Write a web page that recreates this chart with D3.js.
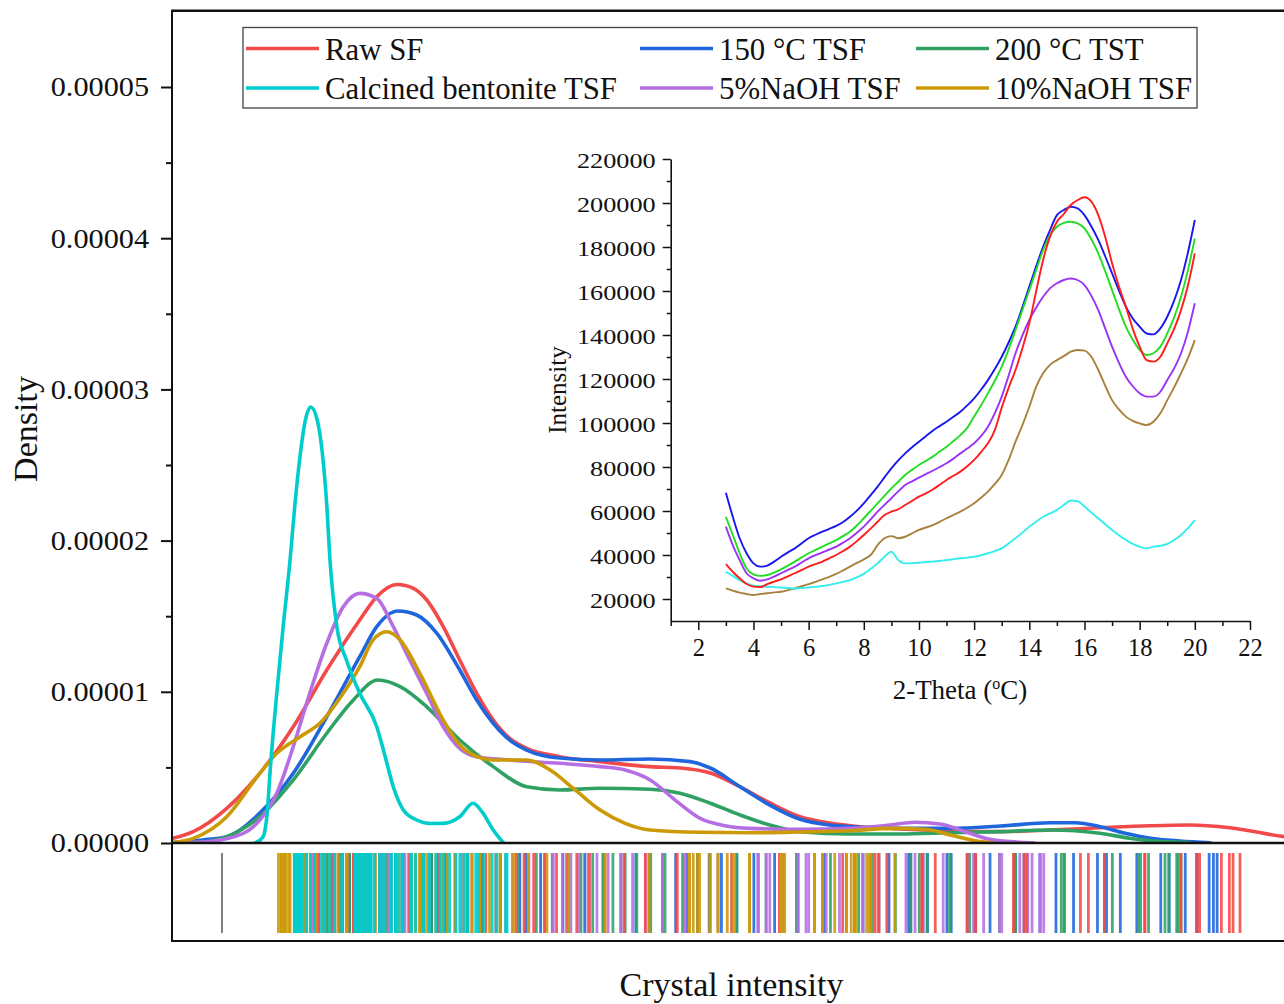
<!DOCTYPE html>
<html>
<head>
<meta charset="utf-8">
<script src="https://cdn.jsdelivr.net/npm/d3@7"></script>
<style>
  body { margin: 0; background: #ffffff; }
  svg { display: block; }
  text { font-family: "Liberation Serif", "Times New Roman", serif; fill: #111; }
</style>
</head>
<body>
<svg id="chart" width="1284" height="1004"></svg>
<script>
// ---------------- data ----------------
const seriesNames = ["Raw SF", "150 °C TSF", "200 °C TST", "Calcined bentonite TSF", "5%NaOH TSF", "10%NaOH TSF"];

// XRD scans (inset): 2-theta sampling and intensity of each sample
const twoTheta = [3, 3.25, 3.5, 3.75, 4, 4.25, 4.5, 4.75, 5, 5.25, 5.5, 5.75, 6, 6.25, 6.5, 6.75, 7, 7.25, 7.5, 7.75,
  8, 8.25, 8.5, 8.75, 9, 9.25, 9.5, 9.75, 10, 10.25, 10.5, 10.75, 11, 11.25, 11.5, 11.75, 12, 12.25, 12.5, 12.75,
  13, 13.25, 13.5, 13.75, 14, 14.25, 14.5, 14.75, 15, 15.25, 15.5, 15.75, 16, 16.25, 16.5, 16.75, 17, 17.25, 17.5, 17.75,
  18, 18.25, 18.5, 18.75, 19, 19.25, 19.5, 19.75, 20];

const xrdRawSF = [35900, 32400, 29400, 26800, 25600, 25400, 26800, 27900, 28900, 30300, 31700, 33200, 34700, 35900, 37000, 38500, 40000, 41800, 43800, 46300,
  49100, 52000, 55100, 58200, 59700, 60800, 62700, 64600, 66500, 68000, 69800, 71900, 74100, 76000, 77900, 80300, 83200, 86800, 90800, 96800,
  107000, 116000, 124100, 134000, 145300, 160000, 174100, 184700, 191500, 195000, 199100, 201300, 202600, 200600, 194500, 184700, 172600, 162000, 152900, 142800,
  134700, 128600, 127900, 130100, 136200, 142800, 151300, 162500, 177100];

const xrd150TSF = [68300, 57400, 47600, 40800, 36200, 34700, 35200, 37000, 39200, 41200, 43000, 45300, 47600, 49200, 50600, 51900, 53200, 55000, 57400, 60200,
  63500, 67200, 71100, 75300, 79400, 83000, 86200, 89000, 91500, 94000, 96500, 98600, 100600, 102800, 105100, 108000, 111200, 115100, 119500, 124500,
  130100, 136600, 143800, 152700, 162000, 171300, 180100, 187700, 194500, 196800, 198300, 197600, 194500, 189300, 183200, 175800, 168000, 160200, 152900, 147500,
  143800, 140700, 140300, 143000, 148300, 155600, 165000, 177500, 192300];

const xrd200TST = [57400, 49100, 40800, 33900, 31200, 30500, 30900, 32000, 33500, 35200, 37000, 38900, 40800, 42300, 43800, 45300, 46800, 48600, 50600, 53400,
  56700, 60100, 63500, 66900, 70300, 73300, 76400, 78700, 80900, 82800, 84700, 87000, 89200, 91800, 94500, 97800, 103000, 108000, 113500, 119200,
  125600, 133500, 142300, 151400, 160400, 169600, 178600, 185400, 189200, 191000, 191500, 190700, 188500, 183500, 177100, 169000, 160400, 151800, 143800, 137800,
  133200, 130900, 131700, 134700, 140700, 148000, 157400, 169500, 183900];

const xrdCalcined = [32400, 30500, 28600, 27100, 26100, 25800, 25600, 25400, 25200, 25000, 24800, 25000, 25200, 25500, 25900, 26400, 27100, 27800, 28600, 29900,
  31400, 33700, 36200, 39200, 41500, 37700, 36200, 36300, 36500, 36800, 37000, 37300, 37700, 38100, 38500, 38800, 39200, 39900, 40800, 41800,
  43000, 45200, 47600, 50200, 52900, 55200, 57400, 58900, 60500, 62700, 64800, 64500, 62000, 59300, 56700, 54000, 51400, 49000, 46800, 45100,
  43800, 43000, 43800, 44200, 45000, 46800, 49100, 52200, 55900];

const xrd5NaOH = [52900, 44500, 37700, 31700, 29400, 28300, 28900, 30200, 31700, 33200, 34700, 36600, 38500, 39900, 41200, 42500, 43800, 45600, 47600, 50100,
  52900, 56200, 59700, 62800, 65800, 68900, 71800, 73500, 75200, 76800, 78300, 80000, 81700, 83800, 86200, 88400, 90800, 94000, 98300, 104500,
  112000, 121500, 131700, 139800, 146800, 152500, 157400, 161200, 163500, 165000, 165700, 165000, 162700, 157800, 151300, 143000, 134700, 127300, 121000, 116700,
  113500, 112000, 112000, 114200, 119500, 124800, 131700, 141500, 154400];

const xrd10NaOH = [24800, 23800, 22900, 22300, 21800, 22300, 22600, 23000, 23300, 24000, 24800, 25800, 26800, 27800, 28900, 30100, 31400, 33000, 34700, 36400,
  38000, 40000, 44500, 47600, 48600, 47600, 48300, 49800, 51400, 52500, 53600, 55100, 56700, 58200, 59700, 61500, 63500, 66000, 68800, 72300,
  76400, 83200, 91500, 99000, 107400, 116500, 122600, 126400, 128600, 130400, 132400, 133200, 132900, 130100, 124100, 117000, 110400, 106200, 102900, 101000,
  99800, 99100, 100600, 104400, 110400, 116200, 122600, 129500, 137700];

// a single intensity value outside the six scans, shown in the rug
const rugOther = [11200];

// kernel density of crystal intensity: [intensity, density]
const densityRawSF = [[1800, 0.030e-5], [5800, 0.075e-5], [12100, 0.229e-5], [18300, 0.461e-5], [24600, 0.769e-5], [30900, 1.144e-5], [37100, 1.475e-5],
  [40300, 1.629e-5], [44100, 1.710e-5], [47200, 1.684e-5], [49700, 1.607e-5], [52800, 1.431e-5], [55900, 1.210e-5], [59100, 0.990e-5], [62200, 0.813e-5],
  [65300, 0.692e-5], [68500, 0.626e-5], [74700, 0.571e-5], [82300, 0.538e-5], [91700, 0.505e-5], [97300, 0.496e-5], [103000, 0.463e-5], [108600, 0.372e-5],
  [114200, 0.265e-5], [119900, 0.174e-5], [125500, 0.132e-5], [131100, 0.108e-5], [138700, 0.093e-5], [148100, 0.081e-5], [157500, 0.075e-5], [166900, 0.086e-5],
  [176300, 0.101e-5], [185700, 0.114e-5], [193200, 0.119e-5], [200700, 0.101e-5], [210900, 0.042e-5], [214000, 0.030e-5]];

const density150TSF = [[1800, 0.003e-5], [7600, 0.020e-5], [12100, 0.042e-5], [18300, 0.198e-5], [24600, 0.461e-5], [30900, 0.835e-5], [37100, 1.232e-5],
  [40300, 1.431e-5], [44300, 1.534e-5], [47800, 1.508e-5], [51600, 1.387e-5], [55900, 1.144e-5], [59100, 0.946e-5], [62200, 0.792e-5], [65300, 0.681e-5],
  [68500, 0.615e-5], [74700, 0.562e-5], [82300, 0.549e-5], [91700, 0.556e-5], [99200, 0.538e-5], [103000, 0.496e-5], [108600, 0.372e-5], [114200, 0.251e-5],
  [119900, 0.157e-5], [125500, 0.119e-5], [131100, 0.104e-5], [138700, 0.097e-5], [148100, 0.097e-5], [157500, 0.112e-5], [166900, 0.134e-5], [171600, 0.134e-5],
  [176300, 0.108e-5], [181000, 0.064e-5], [185700, 0.031e-5], [191300, 0.013e-5], [197000, 0.002e-5]];

const density200TST = [[1800, 0.002e-5], [7600, 0.007e-5], [12100, 0.042e-5], [18300, 0.174e-5], [24600, 0.417e-5], [30900, 0.726e-5], [35900, 0.946e-5],
  [40500, 1.078e-5], [44700, 1.034e-5], [49700, 0.901e-5], [55900, 0.681e-5], [62200, 0.505e-5], [68500, 0.372e-5], [74700, 0.351e-5], [82300, 0.362e-5],
  [91700, 0.355e-5], [97300, 0.329e-5], [103000, 0.263e-5], [108600, 0.185e-5], [114200, 0.119e-5], [119900, 0.075e-5], [129300, 0.060e-5], [138700, 0.060e-5],
  [148100, 0.068e-5], [157500, 0.075e-5], [166900, 0.086e-5], [171600, 0.081e-5], [176300, 0.064e-5], [181900, 0.031e-5], [187500, 0.009e-5], [193200, 0.002e-5]];

const densityCalcined = [[17400, 0], [18900, 0.040e-5], [19700, 0.200e-5], [20300, 0.500e-5], [21500, 0.990e-5], [22700, 1.431e-5], [24000, 1.872e-5],
  [24900, 2.235e-5], [25900, 2.566e-5], [26800, 2.784e-5], [27900, 2.884e-5], [29100, 2.798e-5], [30000, 2.599e-5], [30900, 2.235e-5], [31500, 1.872e-5],
  [32800, 1.431e-5], [34600, 1.210e-5], [37100, 0.990e-5], [40300, 0.769e-5], [41800, 0.582e-5], [43400, 0.372e-5], [45300, 0.218e-5], [47800, 0.152e-5],
  [50300, 0.129e-5], [52800, 0.130e-5], [55900, 0.174e-5], [58400, 0.263e-5], [60300, 0.196e-5], [62200, 0.086e-5], [64100, 0.002e-5]];

const density5NaOH = [[1800, 0.001e-5], [7600, 0.007e-5], [15200, 0.064e-5], [18300, 0.152e-5], [21500, 0.329e-5], [24600, 0.637e-5], [27700, 0.990e-5],
  [30900, 1.321e-5], [34000, 1.563e-5], [37100, 1.651e-5], [40300, 1.618e-5], [43400, 1.431e-5], [46500, 1.210e-5], [49700, 0.990e-5], [52800, 0.769e-5],
  [55900, 0.626e-5], [59100, 0.571e-5], [65300, 0.549e-5], [74700, 0.527e-5], [82300, 0.505e-5], [87000, 0.483e-5], [91700, 0.417e-5], [96400, 0.284e-5],
  [101100, 0.163e-5], [105800, 0.114e-5], [110500, 0.097e-5], [119900, 0.091e-5], [129300, 0.097e-5], [136800, 0.119e-5], [141500, 0.137e-5], [146200, 0.126e-5],
  [150900, 0.075e-5], [155600, 0.024e-5], [161200, 0.005e-5], [164000, 0]];

const density10NaOH = [[1800, 0.003e-5], [5800, 0.031e-5], [12100, 0.174e-5], [18300, 0.461e-5], [21500, 0.593e-5], [25900, 0.703e-5], [29600, 0.792e-5],
  [34000, 0.990e-5], [37100, 1.166e-5], [39600, 1.343e-5], [42200, 1.397e-5], [44700, 1.343e-5], [48400, 1.122e-5], [52800, 0.813e-5], [55900, 0.648e-5],
  [59100, 0.571e-5], [62200, 0.549e-5], [68500, 0.549e-5], [72900, 0.483e-5], [77600, 0.351e-5], [82300, 0.218e-5], [87000, 0.130e-5], [91700, 0.086e-5],
  [101100, 0.071e-5], [110500, 0.068e-5], [119900, 0.073e-5], [129300, 0.081e-5], [136800, 0.097e-5], [143400, 0.091e-5], [148100, 0.053e-5], [152800, 0.015e-5],
  [156000, 0.002e-5]];

// axis ticks
const densityTicks = [0, 1e-5, 2e-5, 3e-5, 4e-5, 5e-5];
const densityMinorTicks = [0.5e-5, 1.5e-5, 2.5e-5, 3.5e-5, 4.5e-5];
const intensityTicks = [20000, 40000, 60000, 80000, 100000, 120000, 140000, 160000, 180000, 200000, 220000];
const intensityMinorTicks = [30000, 50000, 70000, 90000, 110000, 130000, 150000, 170000, 190000, 210000];
const thetaTicks = [2, 4, 6, 8, 10, 12, 14, 16, 18, 20, 22];
const thetaMinorTicks = [1, 3, 5, 7, 9, 11, 13, 15, 17, 19, 21];

// ---------------- styling ----------------
const kdeColors = ["#F24A4A", "#1F66DC", "#2FA263", "#00CCCC", "#B56FE2", "#CC9A06"];
const xrdColors = ["#FF1C1C", "#1818EE", "#22DD22", "#33EEEE", "#9933F5", "#A8823C"];

const series = [
  { name: seriesNames[0], xrd: xrdRawSF, dens: densityRawSF },
  { name: seriesNames[1], xrd: xrd150TSF, dens: density150TSF },
  { name: seriesNames[2], xrd: xrd200TST, dens: density200TST },
  { name: seriesNames[3], xrd: xrdCalcined, dens: densityCalcined },
  { name: seriesNames[4], xrd: xrd5NaOH, dens: density5NaOH },
  { name: seriesNames[5], xrd: xrd10NaOH, dens: density10NaOH }
].map((s, i) => ({ ...s, kdeColor: kdeColors[i], xrdColor: xrdColors[i], idx: i }));

const svg = d3.select("#chart");

// ---------------- main panel: density + rug ----------------
const plotLeft = 172, plotRight = 1290, plotTop = 10.7, baseY = 843, rugBottom = 941;
const x = d3.scaleLinear().domain([1800, 212000]).range([plotLeft, plotRight]);
const y = d3.scaleLinear().domain([0, 5.5e-5]).range([baseY, 11.4]);

svg.append("defs").append("clipPath").attr("id", "plotClip")
  .append("rect").attr("x", plotLeft).attr("y", 0).attr("width", plotRight - plotLeft).attr("height", baseY);

// rug of the measured intensities
const rug = svg.append("g");
const rugOrder = [1, 2, 4, 0, 5, 3];
rug.selectAll("line.other").data(rugOther).join("line")
  .attr("x1", d => x(d)).attr("x2", d => x(d))
  .attr("y1", 853).attr("y2", 933)
  .attr("stroke", "#555").attr("stroke-width", 1.5);
rugOrder.forEach(i => {
  const s = series[i];
  rug.append("g").selectAll("line").data(s.xrd).join("line")
    .attr("x1", d => x(d)).attr("x2", d => x(d))
    .attr("y1", 853).attr("y2", 933)
    .attr("stroke", s.kdeColor).attr("stroke-width", 2.8).attr("stroke-opacity", 0.88);
});

// density curves
const densLine = d3.line().x(d => x(d[0])).y(d => y(d[1])).curve(d3.curveMonotoneX);
const kdeOrder = [0, 1, 2, 4, 5, 3];
const curves = svg.append("g").attr("clip-path", "url(#plotClip)");
kdeOrder.forEach(i => {
  const s = series[i];
  curves.append("path").datum(s.dens)
    .attr("d", densLine)
    .attr("fill", "none").attr("stroke", s.kdeColor)
    .attr("stroke-width", 3.6).attr("stroke-linejoin", "round").attr("stroke-linecap", "round");
});

// frame
const frame = svg.append("g").attr("stroke", "#111").attr("fill", "none");
frame.append("line").attr("x1", plotLeft).attr("x2", plotRight).attr("y1", plotTop).attr("y2", plotTop).attr("stroke-width", 2.5);
frame.append("line").attr("x1", plotLeft).attr("x2", plotRight).attr("y1", baseY).attr("y2", baseY).attr("stroke-width", 2.5);
frame.append("line").attr("x1", plotLeft).attr("x2", plotRight).attr("y1", rugBottom).attr("y2", rugBottom).attr("stroke-width", 2.2);
frame.append("line").attr("x1", plotLeft).attr("x2", plotLeft).attr("y1", plotTop - 1).attr("y2", rugBottom + 1).attr("stroke-width", 2);

// density axis
const gY = svg.append("g").attr("transform", `translate(${plotLeft},0)`)
  .call(d3.axisLeft(y).tickValues(densityTicks).tickFormat(d3.format(".5f")).tickSize(11).tickPadding(12).tickSizeOuter(0))
  .attr("font-size", null).attr("font-family", null);
gY.select(".domain").remove();
gY.selectAll(".tick line").attr("stroke", "#111").attr("stroke-width", 2);
gY.selectAll(".tick text").attr("x", -23 / 1.1).attr("transform", "scale(1.1,1)")
  .style("font-size", "27.5px").attr("fill", "#111");
const gYm = svg.append("g").attr("transform", `translate(${plotLeft},0)`)
  .call(d3.axisLeft(y).tickValues(densityMinorTicks).tickFormat("").tickSize(6).tickSizeOuter(0));
gYm.select(".domain").remove();
gYm.selectAll(".tick line").attr("stroke", "#111").attr("stroke-width", 2);

svg.append("text").attr("transform", "translate(37,429) rotate(-90)")
  .attr("text-anchor", "middle").style("font-size", "34px").text("Density");
svg.append("text").attr("x", 731.5).attr("y", 996)
  .attr("text-anchor", "middle").style("font-size", "34px").text("Crystal intensity");

// legend
const legend = svg.append("g");
legend.append("rect").attr("x", 243).attr("y", 27.5).attr("width", 954).attr("height", 80.5)
  .attr("fill", "#fff").attr("stroke", "#444").attr("stroke-width", 1.3);
const legCols = [246, 640, 916], legRows = [48.5, 88];
series.forEach((s, i) => {
  const cx = legCols[i % 3], cy = legRows[Math.floor(i / 3)];
  legend.append("line").attr("x1", cx).attr("x2", cx + 73).attr("y1", cy).attr("y2", cy)
    .attr("stroke", s.kdeColor).attr("stroke-width", 3.6);
  legend.append("text").attr("x", cx + 79).attr("y", cy + 11).style("font-size", "30.8px").text(s.name);
});

// ---------------- inset: XRD patterns ----------------
const xi = d3.scaleLinear().domain([1, 22]).range([670.7, 1250]);
const yi = d3.scaleLinear().domain([10000, 220000]).range([621, 159]);

const xrdLine = d3.line().x((d, k) => xi(twoTheta[k])).y(d => yi(d)).curve(d3.curveMonotoneX);
const insetOrder = [1, 2, 4, 5, 3, 0];
const inset = svg.append("g");
insetOrder.forEach(i => {
  const s = series[i];
  inset.append("path").datum(s.xrd).attr("d", xrdLine)
    .attr("fill", "none").attr("stroke", s.xrdColor).attr("stroke-width", 1.9).attr("stroke-linejoin", "round");
});

const gIY = svg.append("g").attr("transform", `translate(${xi(1)},0)`)
  .call(d3.axisLeft(yi).tickValues(intensityTicks).tickFormat(d3.format("d")).tickSize(8).tickPadding(7).tickSizeOuter(0))
  .attr("font-size", null).attr("font-family", null);
gIY.select(".domain").attr("stroke", "#111").attr("stroke-width", 1.6);
gIY.selectAll(".tick line").attr("stroke", "#111").attr("stroke-width", 1.5);
gIY.selectAll(".tick text").attr("x", -15 / 1.25).attr("dy", "0.4em").attr("transform", "scale(1.25,1)")
  .style("font-size", "21px").attr("fill", "#111");
const gIYm = svg.append("g").attr("transform", `translate(${xi(1)},0)`)
  .call(d3.axisLeft(yi).tickValues(intensityMinorTicks).tickFormat("").tickSize(4).tickSizeOuter(0));
gIYm.select(".domain").remove();
gIYm.selectAll(".tick line").attr("stroke", "#111").attr("stroke-width", 1.5);

const gIX = svg.append("g").attr("transform", `translate(0,${yi(10000)})`)
  .call(d3.axisBottom(xi).tickValues(thetaTicks).tickSize(9).tickPadding(9).tickSizeOuter(0))
  .attr("font-size", null).attr("font-family", null);
gIX.select(".domain").attr("stroke", "#111").attr("stroke-width", 1.6);
gIX.selectAll(".tick line").attr("stroke", "#111").attr("stroke-width", 1.5);
gIX.selectAll(".tick text").style("font-size", "24.5px").attr("fill", "#111");
const gIXm = svg.append("g").attr("transform", `translate(0,${yi(10000)})`)
  .call(d3.axisBottom(xi).tickValues(thetaMinorTicks).tickFormat("").tickSize(5).tickSizeOuter(0));
gIXm.select(".domain").remove();
gIXm.selectAll(".tick line").attr("stroke", "#111").attr("stroke-width", 1.5);

svg.append("text").attr("transform", "translate(566,390) rotate(-90)")
  .attr("text-anchor", "middle").style("font-size", "25px").text("Intensity");
const xTitle = svg.append("text").attr("x", 960).attr("y", 699).attr("text-anchor", "middle").style("font-size", "27px");
xTitle.append("tspan").text("2-Theta (");
xTitle.append("tspan").attr("dy", -10).style("font-size", "16px").text("o");
xTitle.append("tspan").attr("dy", 10).text("C)");
</script>
</body>
</html>
